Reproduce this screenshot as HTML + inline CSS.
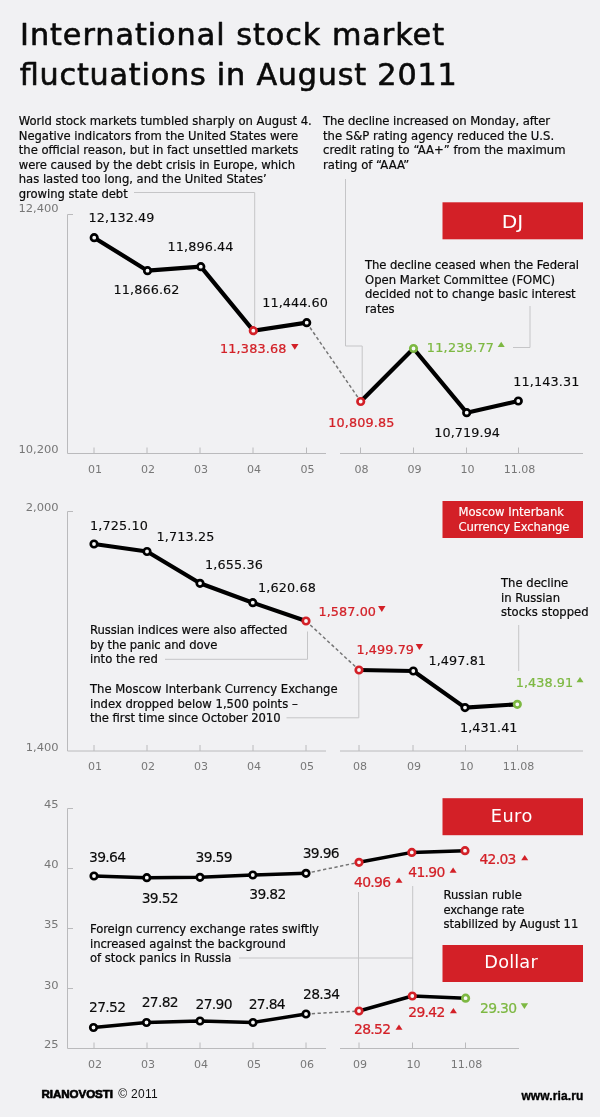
<!DOCTYPE html>
<html lang="en"><head><meta charset="utf-8"><title>International stock market fluctuations in August 2011</title>
<style>
html,body{margin:0;padding:0;background:#f1f1f3;}
body{width:600px;height:1117px;overflow:hidden;}
svg{display:block;font-family:'DejaVu Sans Condensed','DejaVu Sans','Liberation Sans',sans-serif;}
text{stroke-linejoin:round;}
</style></head><body>
<svg width="600" height="1117" viewBox="0 0 600 1117">
<rect width="600" height="1117" fill="#f1f1f3"/>
<text font-size="29.5" fill="#0a0a0a" stroke="#0a0a0a" stroke-width="0.55" transform="translate(20 44.5) scale(1.14 1)" textLength="371.93" lengthAdjust="spacing">International stock market</text>
<text font-size="29.5" fill="#0a0a0a" stroke="#0a0a0a" stroke-width="0.55" transform="translate(19.7 85) scale(1.14 1)" textLength="383.33" lengthAdjust="spacing">fluctuations in August 2011</text>
<text font-size="12" fill="#0a0a0a" stroke="#0a0a0a" stroke-width="0.2" transform="translate(18.75 125.0) scale(1.077 1)" textLength="272.05" lengthAdjust="spacing">World stock markets tumbled sharply on August 4.</text>
<text font-size="12" fill="#0a0a0a" stroke="#0a0a0a" stroke-width="0.2" transform="translate(18.75 139.5) scale(1.077 1)" textLength="259.52" lengthAdjust="spacing">Negative indicators from the United States were</text>
<text font-size="12" fill="#0a0a0a" stroke="#0a0a0a" stroke-width="0.2" transform="translate(18.75 154.0) scale(1.077 1)" textLength="259.52" lengthAdjust="spacing">the official reason, but in fact unsettled markets</text>
<text font-size="12" fill="#0a0a0a" stroke="#0a0a0a" stroke-width="0.2" transform="translate(18.75 168.5) scale(1.077 1)" textLength="256.55" lengthAdjust="spacing">were caused by the debt crisis in Europe, which</text>
<text font-size="12" fill="#0a0a0a" stroke="#0a0a0a" stroke-width="0.2" transform="translate(18.75 183.0) scale(1.077 1)" textLength="230.27" lengthAdjust="spacing">has lasted too long, and the United States’</text>
<text font-size="12" fill="#0a0a0a" stroke="#0a0a0a" stroke-width="0.2" transform="translate(18.75 197.5) scale(1.077 1)" textLength="101.21" lengthAdjust="spacing">growing state debt</text>
<text font-size="12" fill="#0a0a0a" stroke="#0a0a0a" stroke-width="0.2" transform="translate(323 125.0) scale(1.077 1)" textLength="210.77" lengthAdjust="spacing">The decline increased on Monday, after</text>
<text font-size="12" fill="#0a0a0a" stroke="#0a0a0a" stroke-width="0.2" transform="translate(323 139.5) scale(1.077 1)">the S&amp;P rating agency reduced the U.S.</text>
<text font-size="12" fill="#0a0a0a" stroke="#0a0a0a" stroke-width="0.2" transform="translate(323 154.0) scale(1.077 1)">credit rating to “AA+” from the maximum</text>
<text font-size="12" fill="#0a0a0a" stroke="#0a0a0a" stroke-width="0.2" transform="translate(323 168.5) scale(1.077 1)">rating of “AAA”</text>
<text font-size="12" fill="#0a0a0a" stroke="#0a0a0a" stroke-width="0.2" transform="translate(365 269.0) scale(1.077 1)" textLength="198.7" lengthAdjust="spacing">The decline ceased when the Federal</text>
<text font-size="12" fill="#0a0a0a" stroke="#0a0a0a" stroke-width="0.2" transform="translate(365 283.5) scale(1.077 1)" textLength="176.42" lengthAdjust="spacing">Open Market Committee (FOMC)</text>
<text font-size="12" fill="#0a0a0a" stroke="#0a0a0a" stroke-width="0.2" transform="translate(365 298.0) scale(1.077 1)" textLength="195.64" lengthAdjust="spacing">decided not to change basic interest</text>
<text font-size="12" fill="#0a0a0a" stroke="#0a0a0a" stroke-width="0.2" transform="translate(365 312.5) scale(1.077 1)">rates</text>
<path d="M73 214.5 H67.5 V453.5 H326" fill="none" stroke="#bababc" stroke-width="1" />
<path d="M340 453.5 H583" fill="none" stroke="#bababc" stroke-width="1" />
<path d="M94 453.5 v-6" fill="none" stroke="#bababc" stroke-width="1" />
<path d="M147 453.5 v-6" fill="none" stroke="#bababc" stroke-width="1" />
<path d="M200 453.5 v-6" fill="none" stroke="#bababc" stroke-width="1" />
<path d="M253 453.5 v-6" fill="none" stroke="#bababc" stroke-width="1" />
<path d="M306.5 453.5 v-6" fill="none" stroke="#bababc" stroke-width="1" />
<path d="M360.5 453.5 v-6" fill="none" stroke="#bababc" stroke-width="1" />
<path d="M413.5 453.5 v-6" fill="none" stroke="#bababc" stroke-width="1" />
<path d="M466.5 453.5 v-6" fill="none" stroke="#bababc" stroke-width="1" />
<path d="M518.5 453.5 v-6" fill="none" stroke="#bababc" stroke-width="1" />
<text font-size="11" fill="#777777" transform="translate(95 472.8) scale(1.12 1)" text-anchor="middle">01</text>
<text font-size="11" fill="#777777" transform="translate(148 472.8) scale(1.12 1)" text-anchor="middle">02</text>
<text font-size="11" fill="#777777" transform="translate(201 472.8) scale(1.12 1)" text-anchor="middle">03</text>
<text font-size="11" fill="#777777" transform="translate(254 472.8) scale(1.12 1)" text-anchor="middle">04</text>
<text font-size="11" fill="#777777" transform="translate(307.5 472.8) scale(1.12 1)" text-anchor="middle">05</text>
<text font-size="11" fill="#777777" transform="translate(361.5 472.8) scale(1.12 1)" text-anchor="middle">08</text>
<text font-size="11" fill="#777777" transform="translate(414.5 472.8) scale(1.12 1)" text-anchor="middle">09</text>
<text font-size="11" fill="#777777" transform="translate(467.5 472.8) scale(1.12 1)" text-anchor="middle">10</text>
<text font-size="11" fill="#777777" transform="translate(519.5 472.8) scale(1.12 1)" text-anchor="middle">11.08</text>
<text font-size="11" fill="#777777" transform="translate(58.6 211.5) scale(1.16 1)" text-anchor="end">12,400</text>
<text font-size="11" fill="#777777" transform="translate(58.6 453) scale(1.16 1)" text-anchor="end">10,200</text>
<path d="M134 192.5 H254.7 V326" fill="none" stroke="#c5c5c7" stroke-width="1" />
<path d="M345.5 179 V346 H362.2 V397" fill="none" stroke="#c5c5c7" stroke-width="1" />
<path d="M530 306 V347.5 H513" fill="none" stroke="#c5c5c7" stroke-width="1" />
<path d="M94.2 237.7 L147.5 270.7 L200.8 266.7 L253.3 330.7 L306.7 322.7" fill="none" stroke="#000" stroke-width="4.2" stroke-linejoin="round" stroke-linecap="round"/>
<path d="M360.7 401.5 L413.5 348.5 L466.7 412.7 L518.3 401" fill="none" stroke="#000" stroke-width="4.2" stroke-linejoin="round" stroke-linecap="round"/>
<path d="M306.7 322.7 L360.7 401.5" fill="none" stroke="#757575" stroke-width="1.5" stroke-dasharray="3.3 2.5"/>
<circle cx="94.2" cy="237.7" r="3.25" fill="#f8f8f8" stroke="#000" stroke-width="2.7"/>
<circle cx="147.5" cy="270.7" r="3.25" fill="#f8f8f8" stroke="#000" stroke-width="2.7"/>
<circle cx="200.8" cy="266.7" r="3.25" fill="#f8f8f8" stroke="#000" stroke-width="2.7"/>
<circle cx="253.3" cy="330.7" r="3.25" fill="#f8f8f8" stroke="#d32027" stroke-width="2.7"/>
<circle cx="306.7" cy="322.7" r="3.25" fill="#f8f8f8" stroke="#000" stroke-width="2.7"/>
<circle cx="360.7" cy="401.5" r="3.25" fill="#f8f8f8" stroke="#d32027" stroke-width="2.7"/>
<circle cx="413.5" cy="348.5" r="3.25" fill="#f8f8f8" stroke="#7db842" stroke-width="2.7"/>
<circle cx="466.7" cy="412.7" r="3.25" fill="#f8f8f8" stroke="#000" stroke-width="2.7"/>
<circle cx="518.3" cy="401" r="3.25" fill="#f8f8f8" stroke="#000" stroke-width="2.7"/>
<text font-size="12.7" fill="#0a0a0a" stroke="#0a0a0a" stroke-width="0.12" transform="translate(88.5 222.3) scale(1.12 1)" textLength="58.93" lengthAdjust="spacing">12,132.49</text>
<text font-size="12.7" fill="#0a0a0a" stroke="#0a0a0a" stroke-width="0.12" transform="translate(167.5 251) scale(1.12 1)" textLength="58.93" lengthAdjust="spacing">11,896.44</text>
<text font-size="12.7" fill="#0a0a0a" stroke="#0a0a0a" stroke-width="0.12" transform="translate(113.5 293.5) scale(1.12 1)" textLength="58.93" lengthAdjust="spacing">11,866.62</text>
<text font-size="12.7" fill="#0a0a0a" stroke="#0a0a0a" stroke-width="0.12" transform="translate(262.3 306.8) scale(1.12 1)" textLength="58.48" lengthAdjust="spacing">11,444.60</text>
<text font-size="12.7" fill="#d32027" stroke="#d32027" stroke-width="0.22" transform="translate(220 353.3) scale(1.12 1)" textLength="59.37" lengthAdjust="spacing">11,383.68</text>
<polygon points="291.1,343.90000000000003 298.5,343.90000000000003 294.8,349.7" fill="#d32027"/>
<text font-size="12.7" fill="#d32027" stroke="#d32027" stroke-width="0.22" transform="translate(328.3 427.3) scale(1.12 1)" textLength="58.93" lengthAdjust="spacing">10,809.85</text>
<text font-size="12.7" fill="#7db842" stroke="#7db842" stroke-width="0.22" transform="translate(426.8 352) scale(1.12 1)" textLength="60.0" lengthAdjust="spacing">11,239.77</text>
<polygon points="497.7,346.90000000000003 504.7,346.90000000000003 501.2,341.7" fill="#7db842"/>
<text font-size="12.7" fill="#0a0a0a" stroke="#0a0a0a" stroke-width="0.12" transform="translate(434.3 436.7) scale(1.12 1)" textLength="58.66" lengthAdjust="spacing">10,719.94</text>
<text font-size="12.7" fill="#0a0a0a" stroke="#0a0a0a" stroke-width="0.12" transform="translate(513.3 386.3) scale(1.12 1)" textLength="58.93" lengthAdjust="spacing">11,143.31</text>
<rect x="442.5" y="202.3" width="140.5" height="37" fill="#d32027"/>
<text font-size="17.5" fill="#fff" x="501.7" y="228.3" textLength="21.5" lengthAdjust="spacingAndGlyphs">DJ</text>
<path d="M73 511.5 H67.5 V751 H326" fill="none" stroke="#bababc" stroke-width="1" />
<path d="M340 751 H583" fill="none" stroke="#bababc" stroke-width="1" />
<path d="M94 751 v-6" fill="none" stroke="#bababc" stroke-width="1" />
<path d="M147 751 v-6" fill="none" stroke="#bababc" stroke-width="1" />
<path d="M200 751 v-6" fill="none" stroke="#bababc" stroke-width="1" />
<path d="M253 751 v-6" fill="none" stroke="#bababc" stroke-width="1" />
<path d="M306 751 v-6" fill="none" stroke="#bababc" stroke-width="1" />
<path d="M359 751 v-6" fill="none" stroke="#bababc" stroke-width="1" />
<path d="M413 751 v-6" fill="none" stroke="#bababc" stroke-width="1" />
<path d="M465.5 751 v-6" fill="none" stroke="#bababc" stroke-width="1" />
<path d="M517.5 751 v-6" fill="none" stroke="#bababc" stroke-width="1" />
<text font-size="11" fill="#777777" transform="translate(95 770.3) scale(1.12 1)" text-anchor="middle">01</text>
<text font-size="11" fill="#777777" transform="translate(148 770.3) scale(1.12 1)" text-anchor="middle">02</text>
<text font-size="11" fill="#777777" transform="translate(201 770.3) scale(1.12 1)" text-anchor="middle">03</text>
<text font-size="11" fill="#777777" transform="translate(254 770.3) scale(1.12 1)" text-anchor="middle">04</text>
<text font-size="11" fill="#777777" transform="translate(307 770.3) scale(1.12 1)" text-anchor="middle">05</text>
<text font-size="11" fill="#777777" transform="translate(360 770.3) scale(1.12 1)" text-anchor="middle">08</text>
<text font-size="11" fill="#777777" transform="translate(414 770.3) scale(1.12 1)" text-anchor="middle">09</text>
<text font-size="11" fill="#777777" transform="translate(466.5 770.3) scale(1.12 1)" text-anchor="middle">10</text>
<text font-size="11" fill="#777777" transform="translate(518.5 770.3) scale(1.12 1)" text-anchor="middle">11.08</text>
<text font-size="11" fill="#777777" transform="translate(58.6 510.7) scale(1.16 1)" text-anchor="end">2,000</text>
<text font-size="11" fill="#777777" transform="translate(58.6 750.5) scale(1.16 1)" text-anchor="end">1,400</text>
<path d="M165 659.3 H307.5 V631.5" fill="none" stroke="#c5c5c7" stroke-width="1" />
<path d="M286.5 717.8 H358.8 V674" fill="none" stroke="#c5c5c7" stroke-width="1" />
<path d="M518.7 625 V671" fill="none" stroke="#c5c5c7" stroke-width="1" />
<path d="M94 544 L147 551.5 L200 583.3 L252.8 602.7 L306 621" fill="none" stroke="#000" stroke-width="4.2" stroke-linejoin="round" stroke-linecap="round"/>
<path d="M359 670 L413.3 671 L465 707.6 L517.3 704.3" fill="none" stroke="#000" stroke-width="4.2" stroke-linejoin="round" stroke-linecap="round"/>
<path d="M306 621 L359 670" fill="none" stroke="#757575" stroke-width="1.5" stroke-dasharray="3.3 2.5"/>
<circle cx="94" cy="544" r="3.25" fill="#f8f8f8" stroke="#000" stroke-width="2.7"/>
<circle cx="147" cy="551.5" r="3.25" fill="#f8f8f8" stroke="#000" stroke-width="2.7"/>
<circle cx="200" cy="583.3" r="3.25" fill="#f8f8f8" stroke="#000" stroke-width="2.7"/>
<circle cx="252.8" cy="602.7" r="3.25" fill="#f8f8f8" stroke="#000" stroke-width="2.7"/>
<circle cx="306" cy="621" r="3.25" fill="#f8f8f8" stroke="#d32027" stroke-width="2.7"/>
<circle cx="359" cy="670" r="3.25" fill="#f8f8f8" stroke="#d32027" stroke-width="2.7"/>
<circle cx="413.3" cy="671" r="3.25" fill="#f8f8f8" stroke="#000" stroke-width="2.7"/>
<circle cx="465" cy="707.6" r="3.25" fill="#f8f8f8" stroke="#000" stroke-width="2.7"/>
<circle cx="517.3" cy="704.3" r="3.25" fill="#f8f8f8" stroke="#7db842" stroke-width="2.7"/>
<text font-size="12.7" fill="#0a0a0a" stroke="#0a0a0a" stroke-width="0.12" transform="translate(90 530) scale(1.12 1)" textLength="51.79" lengthAdjust="spacing">1,725.10</text>
<text font-size="12.7" fill="#0a0a0a" stroke="#0a0a0a" stroke-width="0.12" transform="translate(156.5 541) scale(1.12 1)" textLength="51.79" lengthAdjust="spacing">1,713.25</text>
<text font-size="12.7" fill="#0a0a0a" stroke="#0a0a0a" stroke-width="0.12" transform="translate(205 569) scale(1.12 1)" textLength="51.79" lengthAdjust="spacing">1,655.36</text>
<text font-size="12.7" fill="#0a0a0a" stroke="#0a0a0a" stroke-width="0.12" transform="translate(258 591.5) scale(1.12 1)" textLength="51.79" lengthAdjust="spacing">1,620.68</text>
<text font-size="12.7" fill="#d32027" stroke="#d32027" stroke-width="0.22" transform="translate(318.5 616) scale(1.12 1)" textLength="51.34" lengthAdjust="spacing">1,587.00</text>
<polygon points="378.1,606.1 385.5,606.1 381.8,611.9" fill="#d32027"/>
<text font-size="12.7" fill="#d32027" stroke="#d32027" stroke-width="0.22" transform="translate(356.5 653.5) scale(1.12 1)" textLength="51.34" lengthAdjust="spacing">1,499.79</text>
<polygon points="415.7,644.1 423.09999999999997,644.1 419.4,649.9" fill="#d32027"/>
<text font-size="12.7" fill="#0a0a0a" stroke="#0a0a0a" stroke-width="0.12" transform="translate(428.5 665) scale(1.12 1)" textLength="51.34" lengthAdjust="spacing">1,497.81</text>
<text font-size="12.7" fill="#0a0a0a" stroke="#0a0a0a" stroke-width="0.12" transform="translate(460 731.7) scale(1.12 1)" textLength="51.34" lengthAdjust="spacing">1,431.41</text>
<text font-size="12.7" fill="#7db842" stroke="#7db842" stroke-width="0.22" transform="translate(515.7 686.8) scale(1.12 1)" textLength="51.34" lengthAdjust="spacing">1,438.91</text>
<polygon points="576.5,682.3000000000001 583.5,682.3000000000001 580.0,677.1" fill="#7db842"/>
<text font-size="12" fill="#0a0a0a" stroke="#0a0a0a" stroke-width="0.2" transform="translate(90 634.0) scale(1.077 1)" textLength="183.19" lengthAdjust="spacing">Russian indices were also affected</text>
<text font-size="12" fill="#0a0a0a" stroke="#0a0a0a" stroke-width="0.2" transform="translate(90 648.5) scale(1.077 1)" textLength="118.2" lengthAdjust="spacing">by the panic and dove</text>
<text font-size="12" fill="#0a0a0a" stroke="#0a0a0a" stroke-width="0.2" transform="translate(90 663.0) scale(1.077 1)">into the red</text>
<text font-size="12" fill="#0a0a0a" stroke="#0a0a0a" stroke-width="0.2" transform="translate(90 693.3) scale(1.077 1)">The Moscow Interbank Currency Exchange</text>
<text font-size="12" fill="#0a0a0a" stroke="#0a0a0a" stroke-width="0.2" transform="translate(90 707.8) scale(1.077 1)">index dropped below 1,500 points –</text>
<text font-size="12" fill="#0a0a0a" stroke="#0a0a0a" stroke-width="0.2" transform="translate(90 722.3) scale(1.077 1)" textLength="176.97" lengthAdjust="spacing">the first time since October 2010</text>
<text font-size="12" fill="#0a0a0a" stroke="#0a0a0a" stroke-width="0.2" transform="translate(501 587.0) scale(1.077 1)">The decline</text>
<text font-size="12" fill="#0a0a0a" stroke="#0a0a0a" stroke-width="0.2" transform="translate(501 601.5) scale(1.077 1)">in Russian</text>
<text font-size="12" fill="#0a0a0a" stroke="#0a0a0a" stroke-width="0.2" transform="translate(501 616.0) scale(1.077 1)">stocks stopped</text>
<rect x="442.5" y="501" width="140.5" height="37" fill="#d32027"/>
<text font-size="12" fill="#fff" stroke="#fff" stroke-width="0.15" transform="translate(458.5 515.8) scale(1.077 1)" textLength="97.96" lengthAdjust="spacing">Moscow Interbank</text>
<text font-size="12" fill="#fff" stroke="#fff" stroke-width="0.15" transform="translate(458.5 530.6) scale(1.077 1)" textLength="103.06" lengthAdjust="spacing">Currency Exchange</text>
<path d="M73 808.5 H67.5 V1048.5 H326" fill="none" stroke="#bababc" stroke-width="1" />
<path d="M340 1048.5 H519" fill="none" stroke="#bababc" stroke-width="1" />
<path d="M67.5 868.5 h5.5" fill="none" stroke="#bababc" stroke-width="1" />
<path d="M67.5 928.5 h5.5" fill="none" stroke="#bababc" stroke-width="1" />
<path d="M67.5 988.5 h5.5" fill="none" stroke="#bababc" stroke-width="1" />
<path d="M94 1048.5 v-6" fill="none" stroke="#bababc" stroke-width="1" />
<path d="M147 1048.5 v-6" fill="none" stroke="#bababc" stroke-width="1" />
<path d="M200 1048.5 v-6" fill="none" stroke="#bababc" stroke-width="1" />
<path d="M253 1048.5 v-6" fill="none" stroke="#bababc" stroke-width="1" />
<path d="M306 1048.5 v-6" fill="none" stroke="#bababc" stroke-width="1" />
<path d="M359 1048.5 v-6" fill="none" stroke="#bababc" stroke-width="1" />
<path d="M412.5 1048.5 v-6" fill="none" stroke="#bababc" stroke-width="1" />
<path d="M465.5 1048.5 v-6" fill="none" stroke="#bababc" stroke-width="1" />
<text font-size="11" fill="#777777" transform="translate(95 1067.7) scale(1.12 1)" text-anchor="middle">02</text>
<text font-size="11" fill="#777777" transform="translate(148 1067.7) scale(1.12 1)" text-anchor="middle">03</text>
<text font-size="11" fill="#777777" transform="translate(201 1067.7) scale(1.12 1)" text-anchor="middle">04</text>
<text font-size="11" fill="#777777" transform="translate(254 1067.7) scale(1.12 1)" text-anchor="middle">05</text>
<text font-size="11" fill="#777777" transform="translate(307 1067.7) scale(1.12 1)" text-anchor="middle">06</text>
<text font-size="11" fill="#777777" transform="translate(360 1067.7) scale(1.12 1)" text-anchor="middle">09</text>
<text font-size="11" fill="#777777" transform="translate(413.5 1067.7) scale(1.12 1)" text-anchor="middle">10</text>
<text font-size="11" fill="#777777" transform="translate(466.5 1067.7) scale(1.12 1)" text-anchor="middle">11.08</text>
<text font-size="11" fill="#777777" transform="translate(58.6 808.3) scale(1.16 1)" text-anchor="end">45</text>
<text font-size="11" fill="#777777" transform="translate(58.6 868.3) scale(1.16 1)" text-anchor="end">40</text>
<text font-size="11" fill="#777777" transform="translate(58.6 927.8) scale(1.16 1)" text-anchor="end">35</text>
<text font-size="11" fill="#777777" transform="translate(58.6 989) scale(1.16 1)" text-anchor="end">30</text>
<text font-size="11" fill="#777777" transform="translate(58.6 1048.3) scale(1.16 1)" text-anchor="end">25</text>
<path d="M239 958 H413" fill="none" stroke="#c5c5c7" stroke-width="1" />
<path d="M358.5 892 V1006" fill="none" stroke="#c5c5c7" stroke-width="1" />
<path d="M412.7 886 V991" fill="none" stroke="#c5c5c7" stroke-width="1" />
<path d="M94 876 L146.8 877.7 L200 877.3 L252.8 875 L306 873.3" fill="none" stroke="#000" stroke-width="3.5" stroke-linejoin="round" stroke-linecap="round"/>
<path d="M359 862.3 L411.8 852.4 L465 850.7" fill="none" stroke="#000" stroke-width="3.5" stroke-linejoin="round" stroke-linecap="round"/>
<path d="M306 873.3 L359 862.3" fill="none" stroke="#757575" stroke-width="1.5" stroke-dasharray="3.3 2.5"/>
<path d="M93.5 1027.5 L146.5 1022.5 L200 1021 L253 1022.5 L306 1014" fill="none" stroke="#000" stroke-width="3.5" stroke-linejoin="round" stroke-linecap="round"/>
<path d="M359 1011 L412.3 996 L465.6 998.2" fill="none" stroke="#000" stroke-width="3.5" stroke-linejoin="round" stroke-linecap="round"/>
<path d="M306 1014 L359 1011" fill="none" stroke="#757575" stroke-width="1.5" stroke-dasharray="3.3 2.5"/>
<circle cx="94" cy="876" r="3.25" fill="#f8f8f8" stroke="#000" stroke-width="2.7"/>
<circle cx="146.8" cy="877.7" r="3.25" fill="#f8f8f8" stroke="#000" stroke-width="2.7"/>
<circle cx="200" cy="877.3" r="3.25" fill="#f8f8f8" stroke="#000" stroke-width="2.7"/>
<circle cx="252.8" cy="875" r="3.25" fill="#f8f8f8" stroke="#000" stroke-width="2.7"/>
<circle cx="306" cy="873.3" r="3.25" fill="#f8f8f8" stroke="#000" stroke-width="2.7"/>
<circle cx="359" cy="862.3" r="3.25" fill="#f8f8f8" stroke="#d32027" stroke-width="2.7"/>
<circle cx="411.8" cy="852.4" r="3.25" fill="#f8f8f8" stroke="#d32027" stroke-width="2.7"/>
<circle cx="465" cy="850.7" r="3.25" fill="#f8f8f8" stroke="#d32027" stroke-width="2.7"/>
<circle cx="93.5" cy="1027.5" r="3.25" fill="#f8f8f8" stroke="#000" stroke-width="2.7"/>
<circle cx="146.5" cy="1022.5" r="3.25" fill="#f8f8f8" stroke="#000" stroke-width="2.7"/>
<circle cx="200" cy="1021" r="3.25" fill="#f8f8f8" stroke="#000" stroke-width="2.7"/>
<circle cx="253" cy="1022.5" r="3.25" fill="#f8f8f8" stroke="#000" stroke-width="2.7"/>
<circle cx="306" cy="1014" r="3.25" fill="#f8f8f8" stroke="#000" stroke-width="2.7"/>
<circle cx="359" cy="1011" r="3.25" fill="#f8f8f8" stroke="#d32027" stroke-width="2.7"/>
<circle cx="412.3" cy="996" r="3.25" fill="#f8f8f8" stroke="#d32027" stroke-width="2.7"/>
<circle cx="465.6" cy="998.2" r="3.25" fill="#f8f8f8" stroke="#7db842" stroke-width="2.7"/>
<text font-size="13.8" fill="#0a0a0a" stroke="#0a0a0a" stroke-width="0.12" transform="translate(89 862.3) scale(1.12 1)" textLength="33.04" lengthAdjust="spacing">39.64</text>
<text font-size="13.8" fill="#0a0a0a" stroke="#0a0a0a" stroke-width="0.12" transform="translate(141.7 902.5) scale(1.12 1)" textLength="33.04" lengthAdjust="spacing">39.52</text>
<text font-size="13.8" fill="#0a0a0a" stroke="#0a0a0a" stroke-width="0.12" transform="translate(195.5 862.3) scale(1.12 1)" textLength="33.04" lengthAdjust="spacing">39.59</text>
<text font-size="13.8" fill="#0a0a0a" stroke="#0a0a0a" stroke-width="0.12" transform="translate(249.3 899) scale(1.12 1)" textLength="33.04" lengthAdjust="spacing">39.82</text>
<text font-size="13.8" fill="#0a0a0a" stroke="#0a0a0a" stroke-width="0.12" transform="translate(302.7 857.8) scale(1.12 1)" textLength="33.04" lengthAdjust="spacing">39.96</text>
<text font-size="13.8" fill="#d32027" stroke="#d32027" stroke-width="0.22" transform="translate(354 886.8) scale(1.12 1)" textLength="33.04" lengthAdjust="spacing">40.96</text>
<polygon points="395.5,882.8000000000001 402.5,882.8000000000001 399.0,877.6" fill="#d32027"/>
<text font-size="13.8" fill="#d32027" stroke="#d32027" stroke-width="0.22" transform="translate(408.3 876.8) scale(1.12 1)" textLength="33.04" lengthAdjust="spacing">41.90</text>
<polygon points="449.6,872.8000000000001 456.6,872.8000000000001 453.1,867.6" fill="#d32027"/>
<text font-size="13.8" fill="#d32027" stroke="#d32027" stroke-width="0.22" transform="translate(479.4 864) scale(1.12 1)" textLength="33.04" lengthAdjust="spacing">42.03</text>
<polygon points="521.2,860.3000000000001 528.2,860.3000000000001 524.7,855.1" fill="#d32027"/>
<text font-size="13.8" fill="#0a0a0a" stroke="#0a0a0a" stroke-width="0.12" transform="translate(89 1012.3) scale(1.12 1)" textLength="33.04" lengthAdjust="spacing">27.52</text>
<text font-size="13.8" fill="#0a0a0a" stroke="#0a0a0a" stroke-width="0.12" transform="translate(141.7 1006.5) scale(1.12 1)" textLength="33.04" lengthAdjust="spacing">27.82</text>
<text font-size="13.8" fill="#0a0a0a" stroke="#0a0a0a" stroke-width="0.12" transform="translate(195.5 1008.5) scale(1.12 1)" textLength="33.04" lengthAdjust="spacing">27.90</text>
<text font-size="13.8" fill="#0a0a0a" stroke="#0a0a0a" stroke-width="0.12" transform="translate(248.7 1008.5) scale(1.12 1)" textLength="33.04" lengthAdjust="spacing">27.84</text>
<text font-size="13.8" fill="#0a0a0a" stroke="#0a0a0a" stroke-width="0.12" transform="translate(303 999) scale(1.12 1)" textLength="33.04" lengthAdjust="spacing">28.34</text>
<text font-size="13.8" fill="#d32027" stroke="#d32027" stroke-width="0.22" transform="translate(354 1033.7) scale(1.12 1)" textLength="33.04" lengthAdjust="spacing">28.52</text>
<polygon points="395.5,1029.8 402.5,1029.8 399.0,1024.6000000000001" fill="#d32027"/>
<text font-size="13.8" fill="#d32027" stroke="#d32027" stroke-width="0.22" transform="translate(408.3 1017.3) scale(1.12 1)" textLength="33.04" lengthAdjust="spacing">29.42</text>
<polygon points="449.9,1013.3000000000001 456.9,1013.3000000000001 453.4,1008.1" fill="#d32027"/>
<text font-size="13.8" fill="#7db842" stroke="#7db842" stroke-width="0.22" transform="translate(480 1013.3) scale(1.12 1)" textLength="33.04" lengthAdjust="spacing">29.30</text>
<polygon points="520.6999999999999,1003.3000000000001 528.1,1003.3000000000001 524.4,1009.1" fill="#7db842"/>
<text font-size="12" fill="#0a0a0a" stroke="#0a0a0a" stroke-width="0.2" transform="translate(90 933.0) scale(1.077 1)" textLength="212.63" lengthAdjust="spacing">Foreign currency exchange rates swiftly</text>
<text font-size="12" fill="#0a0a0a" stroke="#0a0a0a" stroke-width="0.2" transform="translate(90 947.5) scale(1.077 1)" textLength="181.99" lengthAdjust="spacing">increased against the background</text>
<text font-size="12" fill="#0a0a0a" stroke="#0a0a0a" stroke-width="0.2" transform="translate(90 962.0) scale(1.077 1)" textLength="131.38" lengthAdjust="spacing">of stock panics in Russia</text>
<text font-size="12" fill="#0a0a0a" stroke="#0a0a0a" stroke-width="0.2" transform="translate(443.5 899.2) scale(1.077 1)">Russian ruble</text>
<text font-size="12" fill="#0a0a0a" stroke="#0a0a0a" stroke-width="0.2" transform="translate(443.5 913.7) scale(1.077 1)" textLength="75.21" lengthAdjust="spacing">exchange rate</text>
<text font-size="12" fill="#0a0a0a" stroke="#0a0a0a" stroke-width="0.2" transform="translate(443.5 928.2) scale(1.077 1)" textLength="125.16" lengthAdjust="spacing">stabilized by August 11</text>
<rect x="442.5" y="798.2" width="140.5" height="37" fill="#d32027"/>
<text font-size="18.3" fill="#fff" transform="translate(490.7 822.3) scale(1.077 1)" textLength="38.63" lengthAdjust="spacing">Euro</text>
<rect x="442.5" y="945" width="140.5" height="37" fill="#d32027"/>
<text font-size="18.3" fill="#fff" transform="translate(484.3 968.4) scale(1.077 1)" textLength="49.58" lengthAdjust="spacing">Dollar</text>
<text font-size="11.6" fill="#000" stroke="#000" stroke-width="0.7" x="41.5" y="1098.3" textLength="71.5" lengthAdjust="spacing" font-family="'Liberation Sans','DejaVu Sans',sans-serif" font-weight="bold">RIANOVOSTI</text>
<text font-size="12" fill="#111" x="118.3" y="1098.3" textLength="39.5" lengthAdjust="spacing" font-family="'Liberation Sans','DejaVu Sans',sans-serif">© 2011</text>
<text font-size="12" fill="#000" stroke="#000" stroke-width="0.35" x="521.4" y="1099.5" textLength="62" lengthAdjust="spacing" font-family="'Liberation Sans','DejaVu Sans',sans-serif" font-weight="bold">www.ria.ru</text>
</svg>
</body></html>
